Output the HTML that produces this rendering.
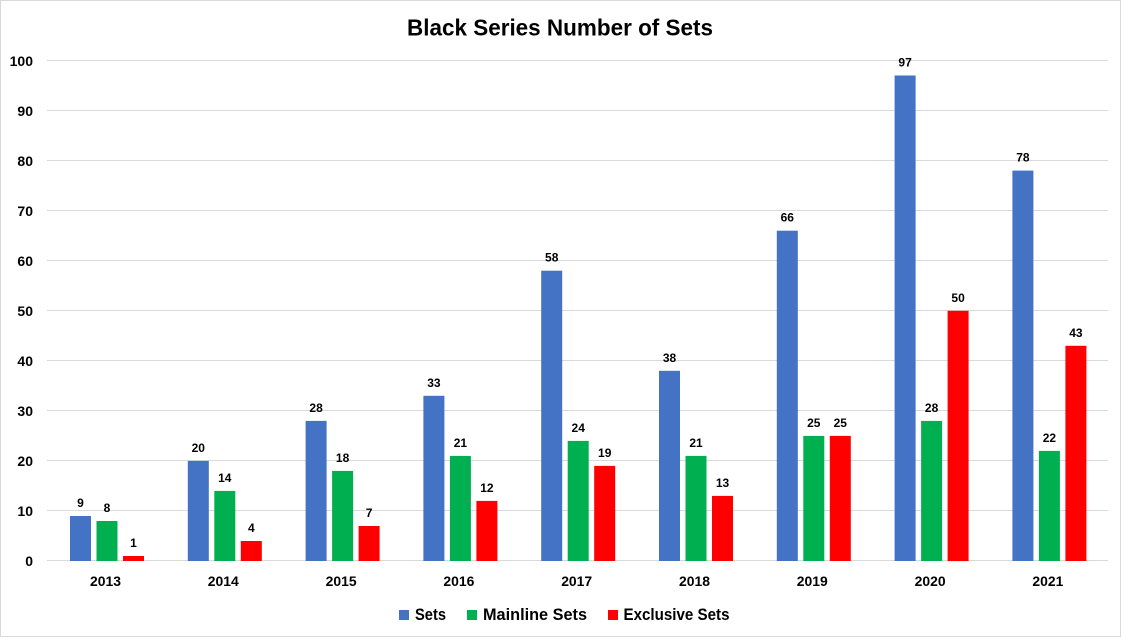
<!DOCTYPE html>
<html>
<head>
<meta charset="utf-8">
<style>
  html, body { margin: 0; padding: 0; background: #fff; }
  svg { display: block; }
  text { font-family: "Liberation Sans", Arial, sans-serif; font-weight: bold; fill: #000; }
</style>
</head>
<body>
<svg width="1122" height="638" viewBox="0 0 1122 638" xmlns="http://www.w3.org/2000/svg">
  <rect x="0" y="0" width="1122" height="638" fill="#fff"/>
  <rect x="0.5" y="0.5" width="1120" height="636" fill="none" stroke="#d9d9d9" stroke-width="1"/>

  <text x="560" y="35.5" font-size="23" text-anchor="middle" textLength="306" lengthAdjust="spacingAndGlyphs">Black Series Number of Sets</text>

  <!-- gridlines -->
  <g stroke="#d9d9d9" stroke-width="1">
    <line x1="47" x2="1108" y1="60.5" y2="60.5"/>
    <line x1="47" x2="1108" y1="110.5" y2="110.5"/>
    <line x1="47" x2="1108" y1="160.5" y2="160.5"/>
    <line x1="47" x2="1108" y1="210.5" y2="210.5"/>
    <line x1="47" x2="1108" y1="260.5" y2="260.5"/>
    <line x1="47" x2="1108" y1="310.5" y2="310.5"/>
    <line x1="47" x2="1108" y1="360.5" y2="360.5"/>
    <line x1="47" x2="1108" y1="410.5" y2="410.5"/>
    <line x1="47" x2="1108" y1="460.5" y2="460.5"/>
    <line x1="47" x2="1108" y1="510.5" y2="510.5"/>
    <line x1="47" x2="1108" y1="560.5" y2="560.5"/>
  </g>

  <!-- y labels -->
  <g font-size="14" text-anchor="end">
    <text x="33" y="66">100</text>
    <text x="33" y="116">90</text>
    <text x="33" y="166">80</text>
    <text x="33" y="216">70</text>
    <text x="33" y="266">60</text>
    <text x="33" y="316">50</text>
    <text x="33" y="366">40</text>
    <text x="33" y="416">30</text>
    <text x="33" y="466">20</text>
    <text x="33" y="516">10</text>
    <text x="33" y="566">0</text>
  </g>

  <g id="bars"></g>
  <g id="labels" font-size="12" text-anchor="middle"></g>
  <g id="cats" font-size="14" text-anchor="middle"></g>

  <!-- legend -->
  <rect x="399" y="610" width="10" height="10" fill="#4472c4"/>
  <text x="415" y="620" font-size="17" textLength="31" lengthAdjust="spacingAndGlyphs">Sets</text>
  <rect x="467" y="610" width="10" height="10" fill="#00b050"/>
  <text x="483" y="620" font-size="17" textLength="104" lengthAdjust="spacingAndGlyphs">Mainline Sets</text>
  <rect x="608" y="610" width="10" height="10" fill="#ff0000"/>
  <text x="623.5" y="620" font-size="17" textLength="106" lengthAdjust="spacingAndGlyphs">Exclusive Sets</text>

  <!-- static bars and labels -->
  <g>
    <!-- generated inline below -->
  </g>
</svg>
<script>
(function(){
  var ns="http://www.w3.org/2000/svg";
  var years=["2013","2014","2015","2016","2017","2018","2019","2020","2021"];
  var series=[[9,20,28,33,58,38,66,97,78],[8,14,18,21,24,21,25,28,22],[1,4,7,12,19,13,25,50,43]];
  var colors=["#4472c4","#00b050","#ff0000"];
  var offs=[23.5,50,76.5];
  var bars=document.getElementById("bars"),labels=document.getElementById("labels"),cats=document.getElementById("cats");
  function y(v){return 561-v*5.005;}
  for(var i=0;i<9;i++){
    var c=46.5+i*117.8;
    for(var s=0;s<3;s++){
      var v=series[s][i];
      var r=document.createElementNS(ns,"rect");
      r.setAttribute("x",(c+offs[s]).toFixed(1));
      r.setAttribute("y",y(v).toFixed(1));
      r.setAttribute("width","21");
      r.setAttribute("height",(561-y(v)).toFixed(1));
      r.setAttribute("fill",colors[s]);
      bars.appendChild(r);
      var t=document.createElementNS(ns,"text");
      t.setAttribute("x",(c+offs[s]+10.5).toFixed(1));
      t.setAttribute("y",(y(v)-9).toFixed(1));
      t.textContent=String(v);
      labels.appendChild(t);
    }
    var ct=document.createElementNS(ns,"text");
    ct.setAttribute("x",(c+59).toFixed(1));
    ct.setAttribute("y","586");
    ct.setAttribute("textLength","31");
    ct.setAttribute("lengthAdjust","spacingAndGlyphs");
    ct.textContent=years[i];
    cats.appendChild(ct);
  }
})();
</script>
</body>
</html>
